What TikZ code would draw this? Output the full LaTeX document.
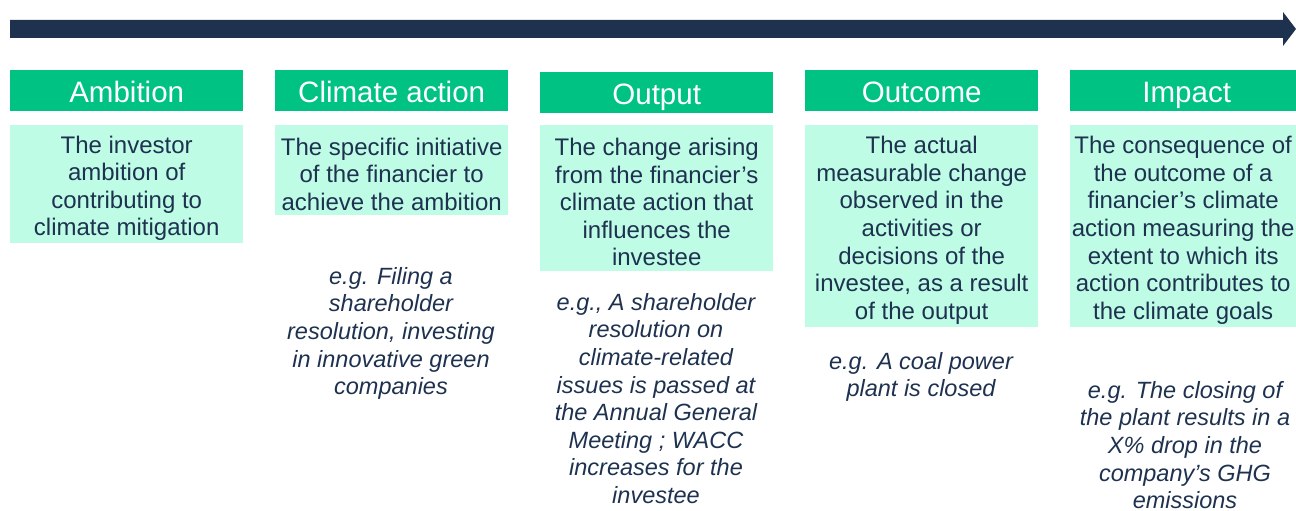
\documentclass[tikz,border=0pt]{standalone}
\usepackage{fontspec}
\setmainfont{Liberation Sans}
\definecolor{navy}{HTML}{1E3250}
\definecolor{hgreen}{HTML}{00C383}
\definecolor{lgreen}{HTML}{BEFCE6}
\begin{document}
\begin{tikzpicture}[x=1pt,y=-1pt,
  head/.style={fill=hgreen, text=white, minimum width=233pt, minimum height=41pt, inner sep=0pt, anchor=north west, text height=25.5pt, text depth=2pt, font=\fontsize{29.5}{32}\selectfont},
  descbox/.style={fill=lgreen, minimum width=233pt, inner sep=0pt, anchor=north west},
  desctext/.style={text=navy, inner sep=0pt, align=center, yshift=-4pt, font=\fontsize{24}{27.6}\selectfont},
  example/.style={text=navy, inner sep=0pt, anchor=north, align=center, font=\fontsize{23.5}{27.6}\selectfont\itshape}]
\useasboundingbox (0,0) rectangle (1296,511);
% timeline arrow
\fill[navy] (10,20) -- (1283,20) -- (1283,12) -- (1296,29) -- (1283,46) -- (1283,38) -- (10,38) -- cycle;
% headers
\node[head] (h1) at (10,70) {Ambition};
\node[head] (h2) at (275,70) {Climate action};
\node[head] (h3) at (540,72) {Output};
\node[head] (h4) at (805,70) {Outcome};
\node[head] (h5) at (1070,70) {Impact};
% description boxes
\node[descbox, minimum height=118pt] (b1) at (10,125) {};
\node[descbox, minimum height=90pt] (b2) at (275,125) {};
\node[descbox, minimum height=146pt] (b3) at (540,125) {};
\node[descbox, minimum height=202pt] (b4) at (805,125) {};
\node[descbox, minimum height=202pt] (b5) at (1070,125) {};
% description texts
\node[desctext] (d1) at (b1.center) {The investor\\ambition of\\contributing to\\climate mitigation};
\node[desctext] (d2) at (b2.center) {The specific initiative\\of the financier to\\achieve the ambition};
\node[desctext] (d3) at (b3.center) {The change arising\\from the financier’s\\climate action that\\influences the\\investee};
\node[desctext] (d4) at (b4.center) {The actual\\measurable change\\observed in the\\activities or\\decisions of the\\investee, as a result\\of the output};
\node[desctext, xshift=-3.5pt] (d5) at (b5.center) {The consequence of\\the outcome of a\\financier’s climate\\action measuring the\\extent to which its\\action contributes to\\the climate goals};
% examples
\node[example] (e2) at (391,267) {e.g. Filing a\\shareholder\\resolution, investing\\in innovative green\\companies};
\node[example] (e3) at (656,293) {e.g., A shareholder\\resolution on\\climate-related\\issues is passed at\\the Annual General\\Meeting ; WACC\\increases for the\\investee};
\node[example] (e4) at (921,352) {e.g. A coal power\\plant is closed};
\node[example] (e5) at (1185,381) {e.g. The closing of\\the plant results in a\\X\% drop in the\\company’s GHG\\emissions};
\end{tikzpicture}
\end{document}
